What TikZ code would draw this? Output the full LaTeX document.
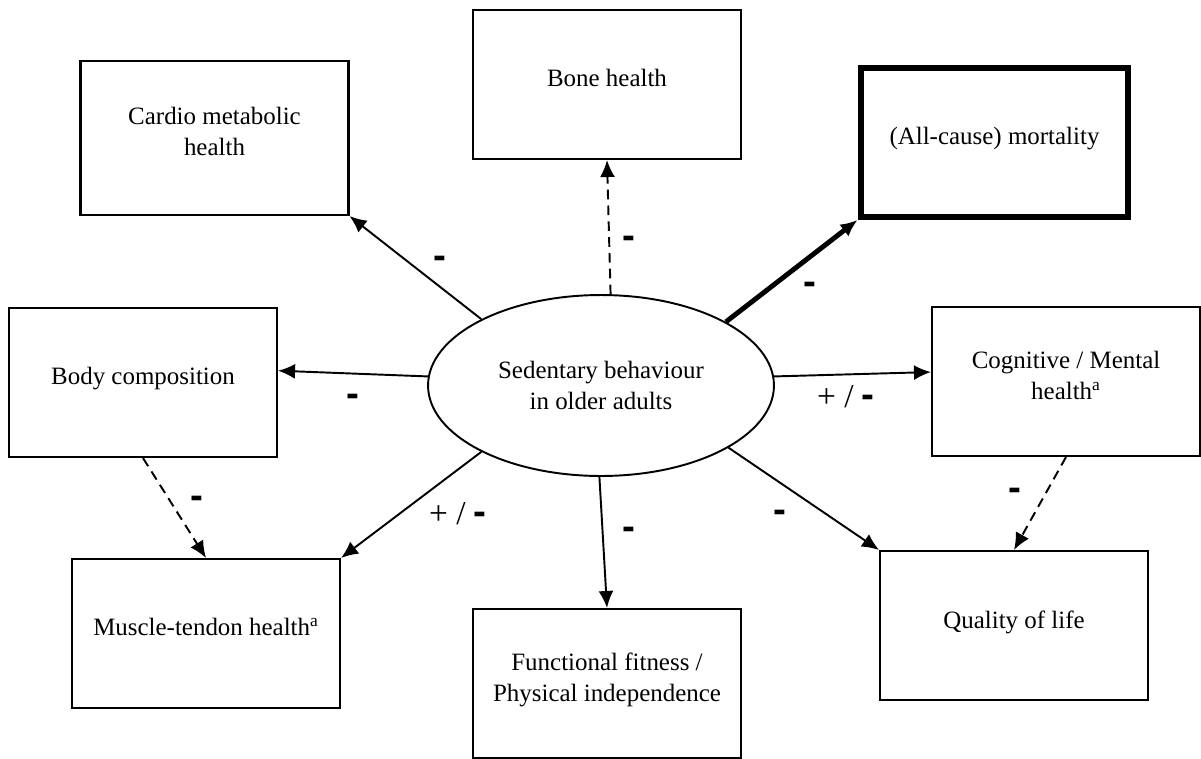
\documentclass[tikz,border=0pt]{standalone}
\usepackage{fontspec}
\setmainfont{Liberation Serif}
\newfontfamily\signfont{Liberation Sans}
\usetikzlibrary{arrows.meta,shapes.geometric}
\tikzset{
  outcome/.style={draw,rectangle,line width=1.2pt,minimum width=5.36cm,minimum height=2.98cm,
    align=center,text depth=0.25cm,font=\fontsize{14.2}{17.6}\selectfont},
  link/.style={line width=1.1pt,-{Latex[length=3.4mm,width=3mm]}},
  dashlink/.style={link,dash pattern=on 5.5pt off 3.5pt},
  sign/.style={inner sep=0pt,font=\signfont\bfseries\fontsize{22}{22}\selectfont},
  mixsign/.style={inner sep=0pt,font=\fontsize{19}{20}\selectfont},
}
\newcommand\negsign{{\signfont\bfseries\fontsize{22}{22}\selectfont -}}
\begin{document}
\begin{tikzpicture}[x=0.02cm,y=-0.02cm]
\useasboundingbox (0,0) rectangle (1201,758);
% Central node
\node[draw,ellipse,line width=1.1pt,inner sep=0pt,minimum width=6.92cm,minimum height=3.62cm,
  align=center,font=\fontsize{14.2}{17.6}\selectfont] (sb) at (601,385.5) {Sedentary behaviour\\in older adults};

% Health outcomes
\node[outcome,minimum height=3.08cm] (cardio) at (214.5,138) {Cardio metabolic\\health};
\node[outcome] (bone) at (607,84.5) {Bone health};
\node[outcome,line width=3.4pt] (mortality) at (994.5,142.5) {(All-cause) mortality};
\node[outcome] (body) at (143,382.5) {Body composition};
\node[outcome] (cog) at (1066,381.5) {Cognitive / Mental\\health\textsuperscript{a}};
\node[outcome] (muscle) at (206,633.5) {Muscle-tendon health\textsuperscript{a}};
\node[outcome] (fitness) at (607,683.5) {Functional fitness /\\Physical independence};
\node[outcome] (qol) at (1014,625.5) {Quality of life};

% Associations
\draw[link] (sb.151) -- (cardio.south east);
\draw[dashlink] (sb.84) -- (bone.south);
\draw[link,line width=2.8pt] (sb.27) -- (mortality.south west);
\draw[link] (sb.177) -- (body.5);
\draw[link] (sb.3) -- (cog.176);
\draw[link] (sb.209) -- (muscle.north east);
\draw[link] (sb.269) -- (fitness.north);
\draw[link] (sb.334) -- (qol.north west);
\draw[dashlink] (body.south) -- (muscle.north);
\draw[dashlink] (cog.south) -- (qol.north);

% Direction of association
\node[sign] (s-cardio) at (440,262) {-};
\node[sign] (s-bone) at (629,242) {-};
\node[sign] (s-mort) at (810,288) {-};
\node[sign] (s-body) at (353,400) {-};
\node[mixsign] (s-cog) at (846,397) {+\ /\ \negsign};
\node[mixsign] (s-muscle) at (458,514) {+\ /\ \negsign};
\node[sign] (s-fit) at (629,533) {-};
\node[sign] (s-qol) at (780,516) {-};
\node[sign] (s-bm) at (197,502) {-};
\node[sign] (s-cq) at (1015,494) {-};
\end{tikzpicture}
\end{document}
